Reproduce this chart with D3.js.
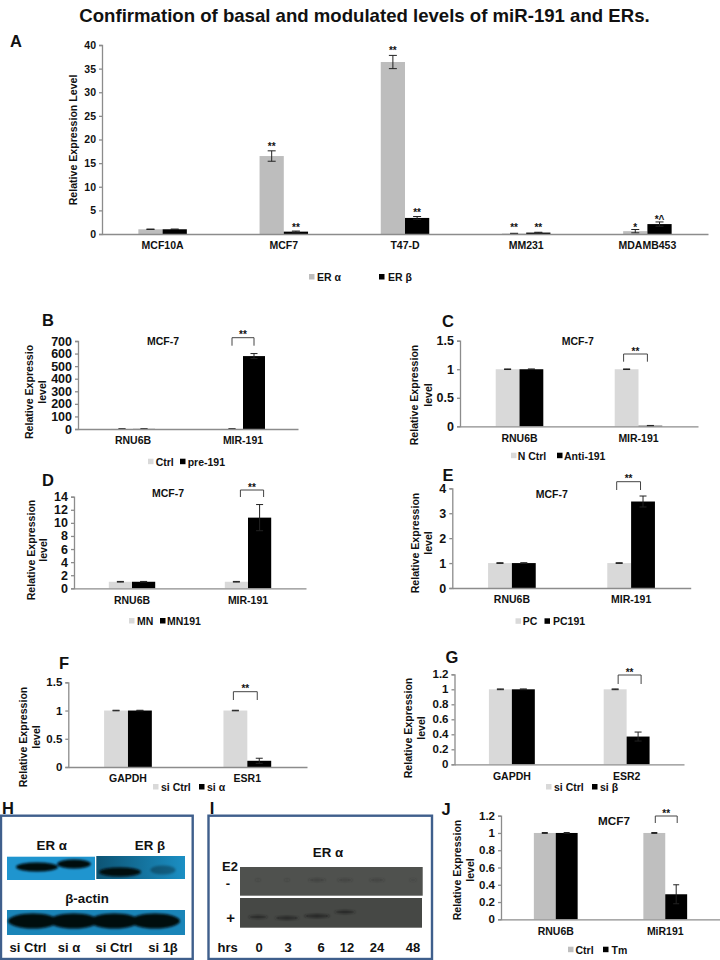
<!DOCTYPE html>
<html>
<head>
<meta charset="utf-8">
<script src="https://cdn.jsdelivr.net/npm/d3@7"></script>
<style>
  body { margin: 0; background: #fff; }
  text { font-family: "Liberation Sans", Arial, sans-serif; font-weight: bold; fill: #111; }
</style>
</head>
<body>
<div id="chart"></div>
<script>
// values
const aCategories = ["MCF10A", "MCF7", "T47-D", "MM231", "MDAMB453"];
const aAlpha = [1.0, 16.5, 36.4, 0.1, 0.6];
const aAlphaErr = [0.05, 1.1, 1.4, 0.05, 0.35];
const aBeta = [1.0, 0.5, 3.4, 0.3, 2.1];
const aBetaErr = [0.05, 0.12, 0.3, 0.07, 0.45];
const aAlphaStars = ["", "**", "**", "**", "*"];
const aBetaStars = ["", "**", "**", "**", "*^"];
const aTicks = [0, 5, 10, 15, 20, 25, 30, 35, 40];

const bCategories = ["RNU6B", "MIR-191"];
const bCtrl = [1, 1];
const bCtrlErr = [1, 1];
const bTreat = [1, 580];
const bTreatErr = [1, 20];
const bTicks = [0, 100, 200, 300, 400, 500, 600, 700];

const cCategories = ["RNU6B", "MIR-191"];
const cCtrl = [1, 1];
const cCtrlErr = [0.005, 0.005];
const cTreat = [1, 0.01];
const cTreatErr = [0.005, 0.005];
const cTicks = [0, 0.5, 1, 1.5];

const dCategories = ["RNU6B", "MIR-191"];
const dCtrl = [1, 1];
const dCtrlErr = [0.05, 0.05];
const dTreat = [1, 10.8];
const dTreatErr = [0.05, 2.0];
const dTicks = [0, 2, 4, 6, 8, 10, 12, 14];

const eCategories = ["RNU6B", "MIR-191"];
const eCtrl = [1, 1];
const eCtrlErr = [0.015, 0.015];
const eTreat = [1, 3.47];
const eTreatErr = [0.015, 0.22];
const eTicks = [0, 1, 2, 3, 4];

const fCategories = ["GAPDH", "ESR1"];
const fCtrl = [1, 1];
const fCtrlErr = [0.005, 0.005];
const fTreat = [1, 0.11];
const fTreatErr = [0.005, 0.045];
const fTicks = [0, 0.5, 1, 1.5];

const gCategories = ["GAPDH", "ESR2"];
const gCtrl = [1, 1];
const gCtrlErr = [0.005, 0.005];
const gTreat = [1, 0.37];
const gTreatErr = [0.005, 0.06];
const gTicks = [0, 0.2, 0.4, 0.6, 0.8, 1, 1.2];

const jCategories = ["RNU6B", "MiR191"];
const jCtrl = [1, 1];
const jCtrlErr = [0.005, 0.005];
const jTreat = [1, 0.29];
const jTreatErr = [0.005, 0.11];
const jTicks = [0, 0.2, 0.4, 0.6, 0.8, 1, 1.2];

// blot band strengths, 0 to 1, one per lane
const hLanes = ["si Ctrl", "si α", "si Ctrl", "si 1β"];
const hTargetBands = [1, 0.8, 1, 0.6];
const hTargetDark = [1, 1, 1, 0.3];
const hActinBands = [1, 1, 1, 1];
const iHours = [0, 3, 6, 12, 24, 48];
const iMinusBands = [0.12, 0.12, 0.4, 0.35, 0.35, 0.15];
const iPlusBands = [0.6, 0.75, 0.8, 0.65, 0, 0];

const svg = d3.select("#chart").append("svg")
  .attr("width", 720)
  .attr("height", 960)
  .attr("viewBox", [0, 0, 720, 960])
  .style("display", "block");

const defs = svg.append("defs");
defs.append("filter").attr("id", "blur2").attr("x", "-50%").attr("y", "-100%").attr("width", "200%").attr("height", "300%")
  .append("feGaussianBlur").attr("stdDeviation", 1.3);

const rightStrip = defs.append("linearGradient").attr("id", "rightStrip");
rightStrip.append("stop").attr("offset", "0%").attr("stop-color", "#0d5474");
rightStrip.append("stop").attr("offset", "100%").attr("stop-color", "#1b8fc4");

const axisColor = "#8c8c8c";

function label(text, x, y, size, anchor) {
  return svg.append("text")
    .attr("x", x)
    .attr("y", y)
    .attr("font-size", size)
    .attr("text-anchor", anchor || "middle")
    .text(text);
}

function drawPanel(p) {
  const x = d3.scaleBand().domain(p.categories).range([p.left, p.right]).paddingInner(0.6).paddingOuter(0.3);
  const sub = d3.scaleBand().domain([0, 1]).range([0, x.bandwidth()]);
  const y = d3.scaleLinear().domain([0, d3.max(p.ticks)]).range([p.base, p.top]);
  const g = svg.append("g");

  const series = [
    { color: p.ctrlColor, values: p.ctrl, errs: p.ctrlErr },
    { color: "#000", values: p.treat, errs: p.treatErr },
  ];
  series.forEach((s, i) => {
    const rows = p.categories.map((c, j) => ({ c, v: s.values[j], e: s.errs[j] }));
    const cx = (d) => x(d.c) + sub(i) + sub.bandwidth() / 2;
    g.selectAll(null).data(rows).enter().append("rect")
      .attr("x", (d) => x(d.c) + sub(i))
      .attr("y", (d) => y(d.v))
      .attr("width", sub.bandwidth())
      .attr("height", (d) => y(0) - y(d.v))
      .attr("fill", s.color);
    g.selectAll(null).data(rows).enter().append("path")
      .attr("d", (d) => {
        const hi = y(d.v + d.e);
        const lo = y(Math.max(0, d.v - d.e));
        const c = p.cap / 2;
        return `M${cx(d)},${lo}V${hi}M${cx(d) - c},${hi}H${cx(d) + c}M${cx(d) - c},${lo}H${cx(d) + c}`;
      })
      .attr("fill", "none")
      .attr("stroke", "#222")
      .attr("stroke-width", 1);
  });

  const yAxis = g.append("g")
    .attr("transform", `translate(${p.left},0)`)
    .call(d3.axisLeft(y).tickValues(p.ticks).tickSize(3).tickPadding(3).tickFormat((d) => d));
  const xAxis = g.append("g")
    .attr("transform", `translate(0,${p.base})`)
    .call(d3.axisBottom(x).tickSize(0).tickPadding(8));
  [yAxis, xAxis].forEach((a) => {
    a.selectAll("path, line").attr("stroke", axisColor).attr("stroke-width", 1.3);
    a.selectAll("text").attr("font-family", null);
  });
  yAxis.attr("font-size", null).selectAll("text").attr("font-size", p.tickFont);
  xAxis.attr("font-size", null).selectAll("text").attr("font-size", p.catFont || 10.5);

  // rotated y title, one or two lines
  p.yTitle.forEach((line, i) => {
    svg.append("text")
      .attr("transform", `translate(${p.yTitleX[i]},${p.yTitleY}) rotate(-90)`)
      .attr("font-size", 10.6)
      .attr("text-anchor", "middle")
      .attr("dy", "0.35em")
      .text(line);
  });

  label(p.letter, p.letterX, p.letterY, 16.5);
  if (p.title) label(p.title, p.titleX, p.titleY + 4, p.titleFont || 10.5);

  // legend
  [0, 1].forEach((i) => {
    svg.append("rect")
      .attr("x", p.legendSwatch[i])
      .attr("y", p.legendY - 3)
      .attr("width", 5.5)
      .attr("height", 5.5)
      .attr("fill", series[i].color);
    label(p.legend[i], p.legendText[i], p.legendY + 4, 10.5, "start");
  });

  // significance bracket over the second category
  if (p.bracketTop !== undefined) {
    const c = p.categories[1];
    const x1 = x(c) + sub(0) + sub.bandwidth() / 2 + p.bracketDx;
    const x2 = x(c) + sub(1) + sub.bandwidth() / 2 + p.bracketDx;
    svg.append("path")
      .attr("d", `M${x1},${p.bracketBottom}V${p.bracketTop}H${x2}V${p.bracketBottom}`)
      .attr("fill", "none")
      .attr("stroke", "#444")
      .attr("stroke-width", 1);
    label("**", (x1 + x2) / 2, p.bracketTop + 0.5, 10);
  }

  return { x, sub, y };
}

label("Confirmation of basal and modulated levels of miR-191 and ERs.", 364.5, 22, 18.6);

const panelA = drawPanel({
  letter: "A", letterX: 16, letterY: 47,
  left: 102, right: 708, top: 45, base: 234,
  categories: aCategories, ticks: aTicks,
  ctrl: aAlpha, ctrlErr: aAlphaErr, treat: aBeta, treatErr: aBetaErr,
  ctrlColor: "#bdbdbd", cap: 8, tickFont: 10.5, catFont: 10.5,
  yTitle: ["Relative Expression Level"], yTitleX: [73], yTitleY: 140,
  legend: ["ER α", "ER β"], legendSwatch: [309, 379], legendText: [317, 388], legendY: 277,
});

// stars above the panel A bars
[[aAlpha, aAlphaErr, aAlphaStars, 0], [aBeta, aBetaErr, aBetaStars, 1]].forEach(([vals, errs, stars, i]) => {
  aCategories.forEach((c, j) => {
    const bx = panelA.x(c) + panelA.sub(i) + panelA.sub.bandwidth() / 2;
    const top = panelA.y(vals[j] + errs[j]);
    label(stars[j], bx, vals[j] < 3 ? Math.min(top + 1, 231) : top - 1, 10);
  });
});

drawPanel({
  letter: "B", letterX: 48, letterY: 326,
  left: 78, right: 298, top: 341, base: 429,
  categories: bCategories, ticks: bTicks,
  ctrl: bCtrl, ctrlErr: bCtrlErr, treat: bTreat, treatErr: bTreatErr,
  ctrlColor: "#d9d9d9", cap: 7, tickFont: 12.5,
  yTitle: ["Relative Expressio", "level"], yTitleX: [29, 42], yTitleY: 392,
  title: "MCF-7", titleX: 163, titleY: 341,
  legend: ["Ctrl", "pre-191"], legendSwatch: [148, 180], legendText: [155.7, 187.7], legendY: 461.7,
  bracketTop: 337.7, bracketBottom: 345.7, bracketDx: 0,
});

drawPanel({
  letter: "C", letterX: 448, letterY: 327,
  left: 460, right: 698, top: 340.7, base: 426.3,
  categories: cCategories, ticks: cTicks,
  ctrl: cCtrl, ctrlErr: cCtrlErr, treat: cTreat, treatErr: cTreatErr,
  ctrlColor: "#d9d9d9", cap: 7, tickFont: 12.5,
  yTitle: ["Relative Expression", "level"], yTitleX: [414, 428], yTitleY: 395,
  title: "MCF-7", titleX: 577.7, titleY: 341,
  legend: ["N Ctrl", "Anti-191"], legendSwatch: [511, 557], legendText: [517.7, 564], legendY: 455.7,
  bracketTop: 354, bracketBottom: 361.7, bracketDx: -3,
});

drawPanel({
  letter: "D", letterX: 48, letterY: 486,
  left: 74, right: 306, top: 496.7, base: 588.3,
  categories: dCategories, ticks: dTicks,
  ctrl: dCtrl, ctrlErr: dCtrlErr, treat: dTreat, treatErr: dTreatErr,
  ctrlColor: "#d9d9d9", cap: 7, tickFont: 12.5,
  yTitle: ["Relative Expression", "level"], yTitleX: [31, 43], yTitleY: 550,
  title: "MCF-7", titleX: 168, titleY: 493,
  legend: ["MN", "MN191"], legendSwatch: [129, 160], legendText: [137, 167], legendY: 621,
  bracketTop: 490, bracketBottom: 497, bracketDx: 4,
});

drawPanel({
  letter: "E", letterX: 448, letterY: 481,
  left: 452.3, right: 690.7, top: 488.3, base: 588,
  categories: eCategories, ticks: eTicks,
  ctrl: eCtrl, ctrlErr: eCtrlErr, treat: eTreat, treatErr: eTreatErr,
  ctrlColor: "#d9d9d9", cap: 7, tickFont: 12.5,
  yTitle: ["Relative Expression", "level"], yTitleX: [415, 428], yTitleY: 543,
  title: "MCF-7", titleX: 551.7, titleY: 494,
  legend: ["PC", "PC191"], legendSwatch: [515.5, 544.5], legendText: [522.7, 553], legendY: 621.3,
  bracketTop: 481.7, bracketBottom: 490, bracketDx: -2.5,
});

drawPanel({
  letter: "F", letterX: 64, letterY: 669,
  left: 68.3, right: 307, top: 682.3, base: 767,
  categories: fCategories, ticks: fTicks,
  ctrl: fCtrl, ctrlErr: fCtrlErr, treat: fTreat, treatErr: fTreatErr,
  ctrlColor: "#d9d9d9", cap: 7, tickFont: 11.5,
  yTitle: ["Relative Expression", "level"], yTitleX: [23, 36], yTitleY: 737,
  legend: ["si Ctrl", "si α"], legendSwatch: [153, 199], legendText: [161, 207], legendY: 787,
  bracketTop: 691.7, bracketBottom: 700, bracketDx: -2,
});

drawPanel({
  letter: "G", letterX: 452, letterY: 663,
  left: 454.5, right: 684, top: 674.3, base: 764.3,
  categories: gCategories, ticks: gTicks,
  ctrl: gCtrl, ctrlErr: gCtrlErr, treat: gTreat, treatErr: gTreatErr,
  ctrlColor: "#d9d9d9", cap: 7, tickFont: 11.5,
  yTitle: ["Relative Expression", "level"], yTitleX: [408, 421], yTitleY: 728,
  legend: ["si Ctrl", "si β"], legendSwatch: [546, 592], legendText: [554, 600], legendY: 787,
  bracketTop: 675, bracketBottom: 684, bracketDx: 3,
});

drawPanel({
  letter: "J", letterX: 446, letterY: 815,
  left: 501, right: 720, top: 815.7, base: 919.3,
  categories: jCategories, ticks: jTicks,
  ctrl: jCtrl, ctrlErr: jCtrlErr, treat: jTreat, treatErr: jTreatErr,
  ctrlColor: "#bfbfbf", cap: 6, tickFont: 11.5,
  yTitle: ["Relative Expression", "level"], yTitleX: [457, 470], yTitleY: 870,
  title: "MCF7", titleX: 614, titleY: 821, titleFont: 11.7,
  legend: ["Ctrl", "Tm"], legendSwatch: [568, 603], legendText: [575.5, 611.6], legendY: 949.7,
  bracketTop: 816, bracketBottom: 823, bracketDx: 1,
});

// western blot panels, redrawn as bands on a coloured strip
function frame(x, w) {
  svg.append("rect")
    .attr("x", x).attr("y", 815.7)
    .attr("width", w).attr("height", 143.3)
    .attr("fill", "none")
    .attr("stroke", "#3f5f8c")
    .attr("stroke-width", 2.4);
}

function strip(x, y, w, h, color) {
  svg.append("rect").attr("x", x).attr("y", y).attr("width", w).attr("height", h).attr("fill", color);
}

// values set the band length, opacity the darkness
function bands(lanes, values, xScale, yScale, rx, ry, color, opacity) {
  svg.append("g").attr("filter", "url(#blur2)")
    .selectAll("ellipse").data(values).enter().append("ellipse")
    .attr("cx", (d, i) => xScale(lanes[i]))
    .attr("cy", (d, i) => yScale(lanes[i]))
    .attr("rx", (d) => rx * d)
    .attr("ry", ry)
    .attr("fill", color)
    .attr("opacity", (d, i) => opacity(d, i));
}

frame(1, 191.7);
label("H", 8, 814, 16.5);
label("ER α", 51.7, 850, 13.3);
label("ER β", 150, 850, 13.3);
label("β-actin", 87, 903, 13.3);

const hIndex = d3.range(hLanes.length);
const hLabelX = d3.scaleOrdinal().domain(hIndex).range([28, 69, 114, 163]);
const hBandX = d3.scaleOrdinal().domain(hIndex).range([37, 74, 120, 163]);
const hBandY = d3.scaleOrdinal().domain(hIndex).range([867, 864, 872, 870]);
const hActinX = d3.scalePoint().domain(hIndex).range([33, 155]);
const hActinY = () => 921;

strip(7, 856.7, 88, 23.3, "#1f95cf");
strip(96.3, 856, 88.7, 23, "url(#rightStrip)");
strip(7, 910, 178, 25, "#1a85b8");
bands(hIndex, hTargetBands, hBandX, hBandY, 21, 4.5, "#04090d", (d, i) => hTargetDark[i]);
bands(hIndex, hActinBands, hActinX, hActinY, 25, 7.5, "#04090d", () => 1);
hLanes.forEach((d, i) => label(d, hLabelX(i), 952, 13));

frame(208.5, 223.5);
label("I", 212, 814, 16.5);
label("ER α", 328, 857, 13.3);
label("E2", 230, 871, 13);
label("-", 228, 888, 13);
label("+", 230.7, 923, 15);
label("hrs", 227.7, 952, 13);

const iLaneX = d3.scaleOrdinal().domain(iHours).range([259, 288, 321, 347, 377, 413]);
const iBandX = d3.scaleOrdinal().domain(iHours).range([258, 287, 317, 345, 377, 413]);
const iMinusY = () => 880;
const iPlusY = d3.scaleOrdinal().domain(iHours).range([917, 918, 916, 912, 916, 916]);
strip(240, 867, 182.7, 28.7, "#4f514e");
strip(240, 898, 182, 29.7, "#464845");
bands(iHours, iMinusBands, iBandX, iMinusY, 22, 1.2, "#2a2a2a", (d) => d + 0.1);
bands(iHours, iPlusBands, iBandX, iPlusY, 16, 1.4, "#1c1c1c", (d) => (d > 0 ? d + 0.1 : 0));
iHours.forEach((d) => label(d, iLaneX(d), 952, 13));
</script>
</body>
</html>
